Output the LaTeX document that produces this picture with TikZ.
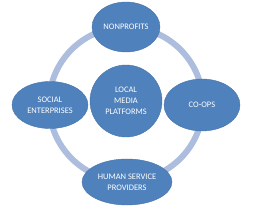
\documentclass[tikz,border=0pt]{standalone}
\usepackage{fontspec}
\setmainfont{Carlito}
\usetikzlibrary{shapes.geometric}
\definecolor{hubblue}{RGB}{79,129,189}
\definecolor{ringblue}{RGB}{172,189,221}
\tikzset{
  partner/.style={draw=hubblue!90!black, line width=0.4pt, ellipse, fill=hubblue, text=white, align=center,
    inner sep=0pt, font=\fontsize{8.5}{11}\selectfont},
  hub/.style={draw=hubblue!90!black, line width=0.4pt, circle, fill=hubblue, text=white, align=center,
    inner sep=0pt, minimum size=72bp, font=\fontsize{8.5}{11}\selectfont},
  ring/.style={line width=6bp, ringblue}
}
\begin{document}
\begin{tikzpicture}[x=1bp,y=1bp]
  \useasboundingbox (0,0) rectangle (253,208);
  \coordinate (c) at (126,104);
  \draw[ring] (c) circle[radius=77];
  \node[hub] (lmp) at (126,107) {LOCAL\\MEDIA\\PLATFORMS};
  \node[partner, minimum width=68bp, minimum height=50bp] (np) at (126,181) {NONPROFITS};
  \node[partner, minimum width=76bp, minimum height=52bp] (coop) at (202,103) {CO-OPS};
  \node[partner, minimum width=76bp, minimum height=47bp] (se) at (50,103) {SOCIAL\\ENTERPRISES};
  \node[partner, minimum width=90bp, minimum height=46bp] (hsp) at (127,26) {HUMAN SERVICE\\PROVIDERS};
\end{tikzpicture}
\end{document}
